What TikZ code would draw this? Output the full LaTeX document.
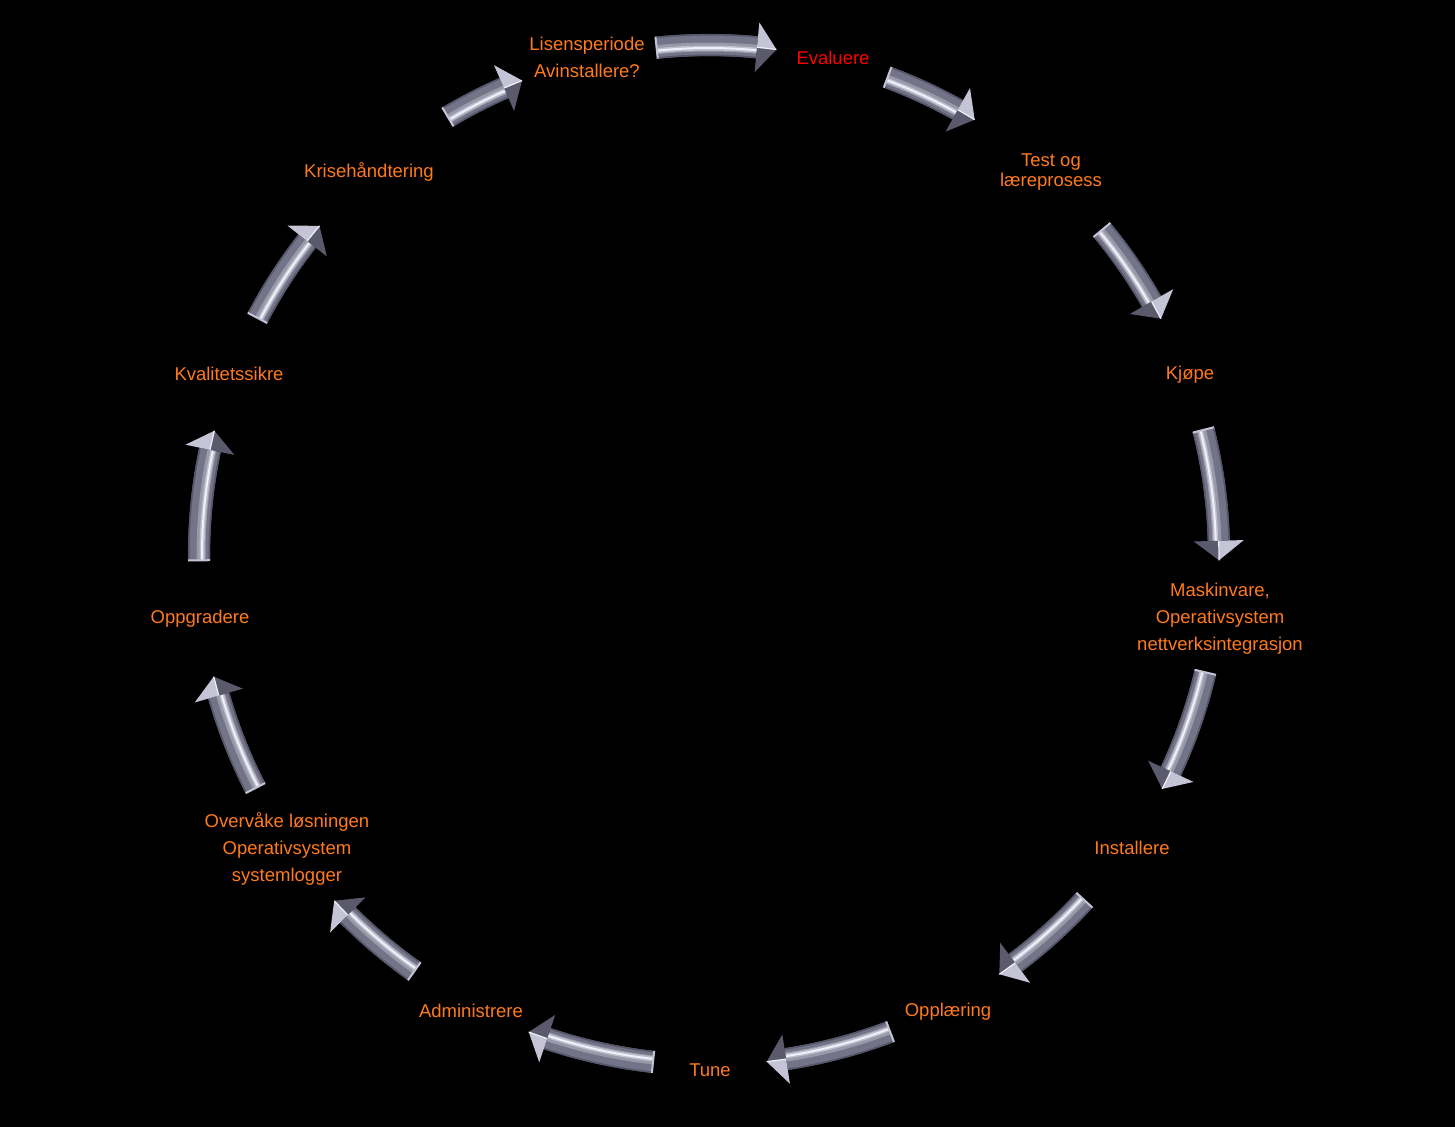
\documentclass[tikz,border=0pt]{standalone}
\usepackage{fontspec}
\setmainfont{Liberation Sans}
\definecolor{lblC}{RGB}{255,122,28}
\definecolor{evalred}{RGB}{255,0,0}
\definecolor{arrHi}{RGB}{240,240,250}
\definecolor{arrBase}{RGB}{116,116,136}
\definecolor{arrEdge}{RGB}{86,86,106}
\definecolor{arrDark}{RGB}{72,72,90}
\definecolor{arrLight}{RGB}{196,196,214}
\tikzset{
  lbl/.style={text=lblC, font=\fontsize{9.25}{13.5}\selectfont, align=center, inner sep=0pt},
}
\newcommand{\cycarrow}[2]{%
  \pgfmathsetmacro{\myab}{#2+2.2}%
  \fill[arrBase] (#1:521) arc[start angle=#1, end angle=\myab, radius=521]
     -- (\myab:499) arc[start angle=\myab, end angle=#1, radius=499] -- cycle;
  \draw[line width=4.5pt, arrHi!30!arrBase] (#1:508) arc[start angle=#1, end angle=\myab, radius=508];
  \draw[line width=2.5pt, arrHi!60!arrBase] (#1:507) arc[start angle=#1, end angle=\myab, radius=507];
  \draw[line width=1pt, arrHi] (#1:507) arc[start angle=#1, end angle=\myab, radius=507];
  \draw[line width=0.8pt, arrEdge] (#1:520.3) arc[start angle=#1, end angle=\myab, radius=520.3];
  \draw[line width=0.8pt, arrEdge] (#1:499.7) arc[start angle=#1, end angle=\myab, radius=499.7];
  \draw[line width=1pt, arrLight] (#1:499) -- (#1:521);
  \fill[arrLight] (\myab:535) -- (#2:510) -- (\myab:510) -- cycle;
  \fill[arrDark!60!arrBase] (\myab:485) -- (#2:510) -- (\myab:510) -- cycle;
  \draw[line width=0.6pt, arrHi] (\myab:510) -- (#2:510);
}
\begin{document}
\begin{tikzpicture}[x=0.5pt, y=0.5pt]
\fill[black] (0,0) rectangle (1455,-1127);
\useasboundingbox (0,0) rectangle (1455,-1127);
\begin{scope}[shift={(709,-555)}]
  \cycarrow{95.9}{82.4}
  \cycarrow{69.5}{58.6}
  \cycarrow{39.6}{27.6}
  \cycarrow{14.2}{-0.6}
  \cycarrow{-13.3}{-27.3}
  \cycarrow{-42.6}{-55.3}
  \cycarrow{-69.2}{-83.5}
  \cycarrow{-96.3}{-110.7}
  \cycarrow{-125.3}{-137.3}
  \cycarrow{-152.8}{-166.2}
  \cycarrow{-179.4}{-194.1}
  \cycarrow{-207.7}{-220.2}
  \cycarrow{-239.2}{-248.5}
\end{scope}
\node[lbl] (lis) at (587,-57.5) {Lisensperiode\\Avinstallere?};
\node[lbl, text=evalred] (eva) at (833,-58) {Evaluere};
\node[lbl, font=\fontsize{9.25}{10}\selectfont] (tes) at (1051,-172.5) {Test og\\læreprosess};
\node[lbl] (kjo) at (1190,-374.5) {Kjøpe};
\node[lbl] (mas) at (1220,-618.5) {Maskinvare,\\Operativsystem\\nettverksintegrasjon};
\node[lbl] (ins) at (1132,-848) {Installere};
\node[lbl] (opl) at (948,-1011.5) {Opplæring};
\node[lbl] (tun) at (710,-1070) {Tune};
\node[lbl] (adm) at (471,-1011) {Administrere};
\node[lbl] (ove) at (287,-848.5) {Overvåke løsningen\\Operativsystem\\systemlogger};
\node[lbl] (opg) at (200,-618.5) {Oppgradere};
\node[lbl] (kva) at (229,-374) {Kvalitetssikre};
\node[lbl] (kri) at (369,-172) {Krisehåndtering};
\end{tikzpicture}
\end{document}
